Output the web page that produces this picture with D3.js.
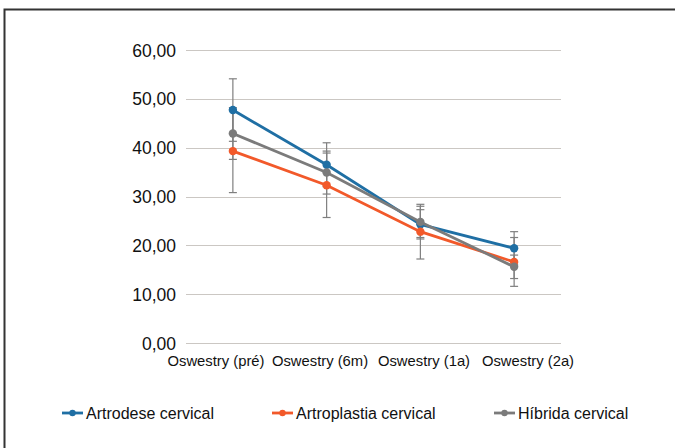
<!DOCTYPE html>
<meta charset="utf-8">
<script src="https://d3js.org/d3.v7.min.js"></script>
<style>
  body { margin: 0; background: #fff; }
  svg text { font-family: "Liberation Sans", Arial, Helvetica, sans-serif; fill: #111; }
</style>
<div id="plot_div"></div>
<script>
    // chart data
    var categories = ["Oswestry (pré)", "Oswestry (6m)", "Oswestry (1a)", "Oswestry (2a)"];
    var seriesNames = ["Artrodese cervical", "Artroplastia cervical", "Híbrida cervical"];
    var artrodese = [47.7, 36.5, 24.3, 19.4];
    var artroplastia = [39.3, 32.3, 22.8, 16.6];
    var hibrida = [42.9, 34.9, 24.8, 15.6];
    var artrodeseErr = [6.4, 4.5, 3.0, 3.4];
    var artroplastiaErr = [8.5, 6.6, 5.6, 5.0];
    var hibridaErr = [5.3, 4.4, 3.2, 2.4];
    var yTicks = [0, 10, 20, 30, 40, 50, 60];

    var colors = ["#1f6fa4", "#f2592a", "#7b7b7b"];
    var width = 675, height = 448;

    var svg = d3.select("#plot_div")
        .append("svg")
        .attr("width", width)
        .attr("height", height);

    // outer frame
    svg.append("rect")
        .attr("x", 4.5).attr("y", 9.5)
        .attr("width", 700).attr("height", 500)
        .attr("fill", "none")
        .attr("stroke", "#333")
        .attr("stroke-width", 2);

    var x = d3.scaleBand().domain(categories).range([186, 561]);
    var xLabels = d3.scaleBand().domain(categories).range([164, 580]);
    var y = d3.scaleLinear().domain([0, 60]).range([343, 50]);

    var comma = d3.formatLocale({ decimal: ",", thousands: ".", grouping: [3], currency: ["", ""] });

    // gridlines
    svg.append("g")
        .selectAll("line")
        .data(yTicks)
        .join("line")
        .attr("x1", 186).attr("x2", 561)
        .attr("y1", function (d) { return Math.round(y(d)) + 0.5; })
        .attr("y2", function (d) { return Math.round(y(d)) + 0.5; })
        .attr("stroke", "#cbc7c3")
        .attr("stroke-width", 1);

    var yAxis = svg.append("g")
        .attr("transform", "translate(176,0)")
        .call(d3.axisLeft(y).tickValues(yTicks).tickSize(0).tickPadding(0).tickFormat(comma.format(".2f")));
    yAxis.select(".domain").remove();
    yAxis.selectAll("text").style("font-size", "17.5px").attr("dy", "0.35em");

    var xAxis = svg.append("g")
        .attr("transform", "translate(0,352)")
        .call(d3.axisBottom(xLabels).tickSize(0).tickPadding(0));
    xAxis.select(".domain").remove();
    xAxis.selectAll("text").style("font-size", "14.8px").attr("dy", "0.95em");

    var series = [
        { name: seriesNames[0], values: artrodese, err: artrodeseErr, color: colors[0] },
        { name: seriesNames[1], values: artroplastia, err: artroplastiaErr, color: colors[1] },
        { name: seriesNames[2], values: hibrida, err: hibridaErr, color: colors[2] }
    ];
    var cx = function (i) { return x(categories[i]) + x.bandwidth() / 2; };

    // error bars
    series.forEach(function (s) {
        var g = svg.append("g").attr("stroke", "#7f7f7f").attr("stroke-width", 1.2);
        s.values.forEach(function (v, i) {
            var lo = y(v - s.err[i]), hi = y(v + s.err[i]);
            g.append("line").attr("x1", cx(i)).attr("x2", cx(i)).attr("y1", lo).attr("y2", hi);
            g.append("line").attr("x1", cx(i) - 4).attr("x2", cx(i) + 4).attr("y1", lo).attr("y2", lo);
            g.append("line").attr("x1", cx(i) - 4).attr("x2", cx(i) + 4).attr("y1", hi).attr("y2", hi);
        });
    });

    // lines and markers
    var line = d3.line()
        .x(function (d, i) { return cx(i); })
        .y(function (d) { return y(d); });

    series.forEach(function (s) {
        svg.append("path")
            .attr("d", line(s.values))
            .attr("fill", "none")
            .attr("stroke", s.color)
            .attr("stroke-width", 2.8);
        svg.append("g")
            .selectAll("circle")
            .data(s.values)
            .join("circle")
            .attr("cx", function (d, i) { return cx(i); })
            .attr("cy", function (d) { return y(d); })
            .attr("r", 4.2)
            .attr("fill", s.color);
    });

    // legend
    var legendX = [62, 272, 494];
    var legend = svg.append("g");
    series.forEach(function (s, i) {
        var g = legend.append("g").attr("transform", "translate(" + legendX[i] + ",413)");
        g.append("line").attr("x1", 0).attr("x2", 21).attr("y1", 0).attr("y2", 0)
            .attr("stroke", s.color).attr("stroke-width", 2.8);
        g.append("circle").attr("cx", 10.5).attr("cy", 0).attr("r", 3.2).attr("fill", s.color);
        g.append("text").attr("x", 24).attr("y", 0).attr("dy", "0.36em")
            .style("font-size", "16px").text(s.name);
    });
</script>
